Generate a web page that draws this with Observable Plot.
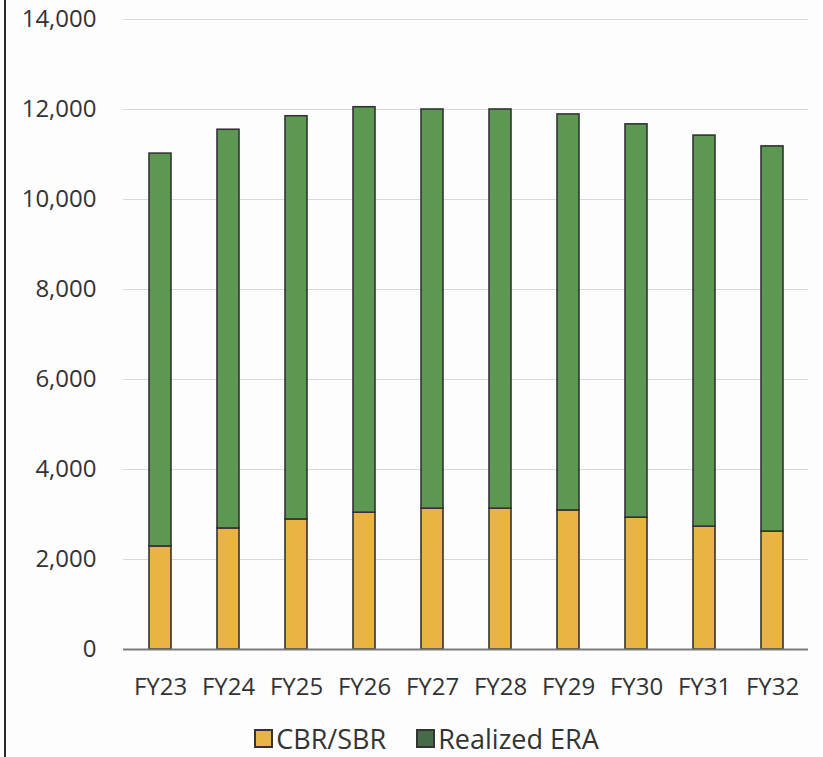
<!DOCTYPE html>
<html>
<head>
<meta charset="utf-8">
<script src="https://cdn.jsdelivr.net/npm/d3@7"></script>
<script src="https://cdn.jsdelivr.net/npm/@observablehq/plot@0.6"></script>
<style>
  html, body { margin: 0; padding: 0; background: #fdfdfd; }
  #wrap { position: relative; width: 823px; height: 757px; overflow: hidden; font-family: "Open Sans", sans-serif; }
  #border { position: absolute; left: 4px; top: 0; width: 2px; height: 757px; background: #2a2a2a; }
  #chart { position: absolute; left: 0; top: 0; }
  #legend { position: absolute; left: 0; top: 720px; width: 823px; display: flex; justify-content: center; gap: 30px; font-size: 27px; font-weight: 500; color: #333; padding-left: 30px; box-sizing: border-box; }
  .item { display: flex; align-items: center; gap: 3px; }
  .sw { width: 19px; height: 19px; box-sizing: border-box; border: 2px solid #333; display: inline-block; }
</style>
</head>
<body>
<div id="wrap">
  <div id="border"></div>
  <div id="chart"></div>
  <div id="legend"></div>
</div>
<script>
const years = ["FY23","FY24","FY25","FY26","FY27","FY28","FY29","FY30","FY31","FY32"];
const cbrSbr = [2290, 2690, 2890, 3040, 3130, 3130, 3090, 2930, 2730, 2620];
const realizedEra = [8730, 8860, 8960, 9010, 8870, 8870, 8800, 8740, 8690, 8560];
const seriesNames = ["CBR/SBR", "Realized ERA"];
const seriesColors = ["#E9B443", "#5C9852"];
const yTicks = [0, 2000, 4000, 6000, 8000, 10000, 12000, 14000];

const rows = [];
years.forEach((y, i) => {
  rows.push({year: y, series: seriesNames[0], value: cbrSbr[i]});
  rows.push({year: y, series: seriesNames[1], value: realizedEra[i]});
});

const fmt = d3.format(",");

const plot = Plot.plot({
  width: 823,
  height: 705,
  marginLeft: 123,
  marginRight: 15,
  marginTop: 19,
  marginBottom: 56,
  style: {fontFamily: "Open Sans, sans-serif", fontSize: "24px", fontWeight: 500, color: "#333", background: "transparent"},
  x: {domain: years, paddingInner: 0.68, paddingOuter: 0.34, label: null},
  y: {domain: [0, 14000], ticks: yTicks, label: null},
  color: {domain: seriesNames, range: seriesColors},
  marks: [
    Plot.gridY(yTicks.filter(d => d > 0), {stroke: "#d9d9d9", strokeOpacity: 1, strokeWidth: 1.2}),
    Plot.barY(rows, Plot.stackY({x: "year", y: "value", fill: "series", order: seriesNames, stroke: "#333", strokeWidth: 1.6})),
    Plot.ruleY([0], {stroke: "#7a7a7a", strokeWidth: 2}),
    Plot.axisY({ticks: yTicks, tickSize: 0, tickPadding: 27, tickFormat: fmt, fontSize: 24, fill: "#333"}),
    Plot.axisX({tickSize: 0, tickPadding: 28, fontSize: 24, fill: "#333"})
  ]
});
document.getElementById("chart").appendChild(plot);

const legend = document.getElementById("legend");
seriesNames.forEach((name, i) => {
  const item = document.createElement("span");
  item.className = "item";
  const sw = document.createElement("span");
  sw.className = "sw";
  sw.style.background = i === 1 ? "#456B48" : seriesColors[i];
  const label = document.createElement("span");
  label.textContent = name;
  item.appendChild(sw);
  item.appendChild(label);
  legend.appendChild(item);
});
</script>
</body>
</html>
